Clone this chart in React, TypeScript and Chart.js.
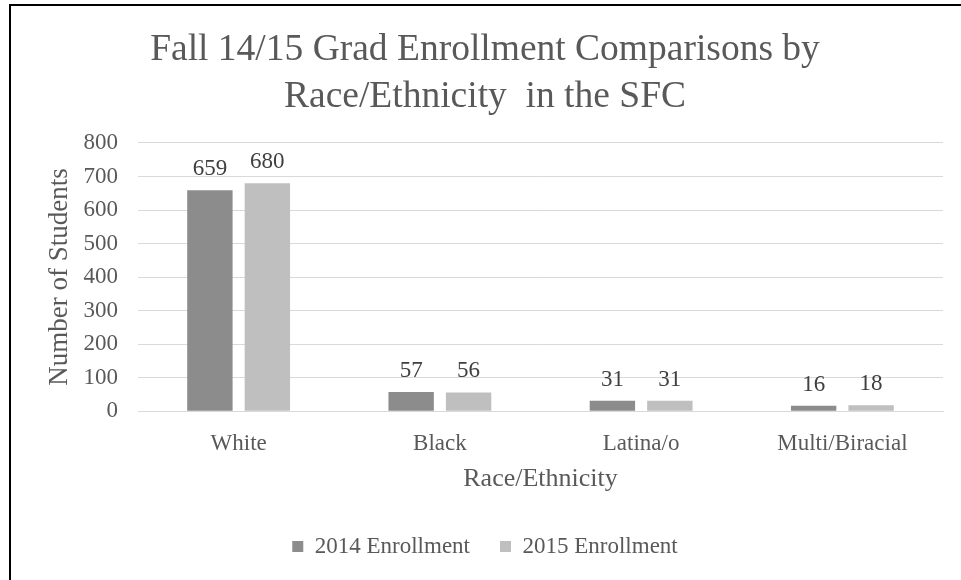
import React, { useEffect, useRef } from "react";
import { Chart, registerables } from "chart.js";

Chart.register(...registerables);

const categories = ["White", "Black", "Latina/o", "Multi/Biracial"];
const enrollment2014 = [659, 57, 31, 16];
const enrollment2015 = [680, 56, 31, 18];
const seriesNames = ["2014 Enrollment", "2015 Enrollment"];
const titleLines = ["Fall 14/15 Grad Enrollment Comparisons by", "Race/Ethnicity  in the SFC"];
const yAxisTitle = "Number of Students";
const xAxisTitle = "Race/Ethnicity";

const FONT = "'Liberation Serif', 'Times New Roman', serif";
const TEXT = "#595959";

const valueLabels = {
  id: "valueLabels",
  afterDatasetsDraw(chart: any) {
    const ctx = chart.ctx;
    ctx.save();
    ctx.font = `23px ${FONT}`;
    ctx.fillStyle = "#404040";
    ctx.textAlign = "center";
    ctx.textBaseline = "alphabetic";
    chart.data.datasets.forEach((ds: any, i: number) => {
      const meta = chart.getDatasetMeta(i);
      meta.data.forEach((bar: any, j: number) => {
        ctx.fillText(String(ds.data[j]), bar.x, bar.y - 15);
      });
    });
    ctx.restore();
  },
};

export default function App() {
  const ref = useRef<HTMLCanvasElement | null>(null);
  useEffect(() => {
    if (!ref.current) return;
    const chart = new Chart(ref.current, {
      type: "bar",
      data: {
        labels: categories,
        datasets: [
          { label: seriesNames[0], data: enrollment2014, backgroundColor: "#8c8c8c" },
          { label: seriesNames[1], data: enrollment2015, backgroundColor: "#bfbfbf" },
        ],
      },
      options: {
        animation: false,
        responsive: true,
        maintainAspectRatio: false,
        layout: { padding: { left: 27, right: 18, top: 0, bottom: 12 } },
        datasets: { bar: { categoryPercentage: 0.571, barPercentage: 0.79 } },
        plugins: {
          title: {
            display: true,
            text: titleLines,
            color: TEXT,
            font: { family: FONT, size: 37.5, weight: "normal", lineHeight: 1.253 },
            padding: { top: 27, bottom: 22 },
          },
          legend: {
            position: "bottom",
            labels: {
              color: TEXT,
              font: { family: FONT, size: 23 },
              boxWidth: 11,
              boxHeight: 11,
              padding: 30,
            },
          },
          tooltip: { enabled: false },
        },
        scales: {
          x: {
            grid: { display: false, drawTicks: false },
            border: { display: true, color: "#d9d9d9" },
            ticks: { color: TEXT, font: { family: FONT, size: 23 }, padding: 19 },
            title: {
              display: true,
              text: xAxisTitle,
              color: TEXT,
              font: { family: FONT, size: 26 },
              padding: { top: -13, bottom: 10 },
            },
          },
          y: {
            min: 0,
            max: 800,
            ticks: { stepSize: 100, color: TEXT, font: { family: FONT, size: 23 }, padding: 20 },
            grid: { color: "#d9d9d9", drawTicks: false },
            border: { display: false },
            title: {
              display: true,
              text: yAxisTitle,
              color: TEXT,
              font: { family: FONT, size: 27 },
              padding: { top: 17, bottom: 0 },
            },
            afterFit: (s: any) => {
              s.width = 111;
            },
          },
        },
      },
      plugins: [valueLabels],
    });
    return () => chart.destroy();
  }, []);

  return (
    <div style={{ position: "fixed", left: 0, top: 0, width: 961, height: 580, background: "#fff" }}>
      <div
        style={{
          position: "absolute",
          left: 9,
          top: 4,
          width: 960,
          height: 580,
          borderTop: "2px solid #000",
          borderLeft: "2px solid #000",
          boxSizing: "border-box",
        }}
      />
      <div style={{ position: "absolute", left: 0, top: 0, width: 961, height: 580 }}>
        <canvas ref={ref} />
      </div>
    </div>
  );
}
